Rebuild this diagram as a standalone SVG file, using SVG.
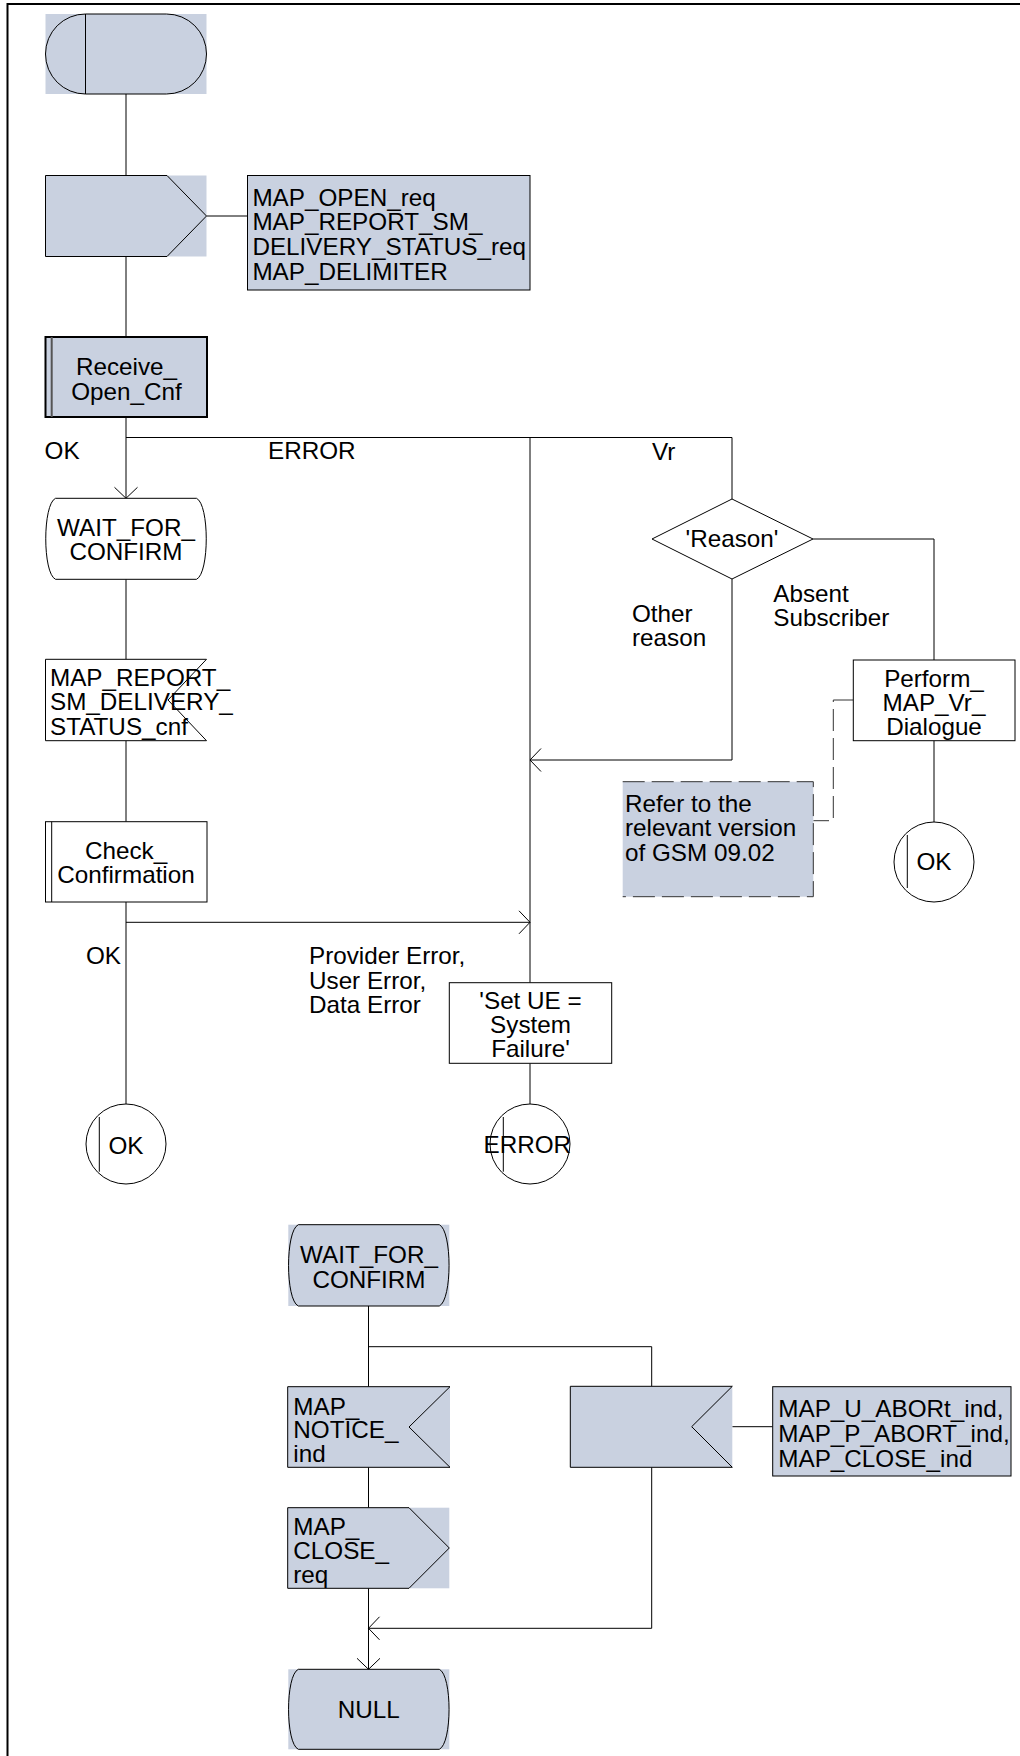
<svg xmlns="http://www.w3.org/2000/svg" width="1020" height="1756" viewBox="0 0 1020 1756">
<style>
.t{font-family:"Liberation Sans",Arial,Helvetica,sans-serif;font-size:23px;fill:#000}
.m{text-anchor:middle}
.ln{fill:none;stroke:#000;stroke-width:1}
.bg{fill:#C9D1E0;stroke:none}
.sh{fill:none;stroke:#000;stroke-width:1}
.wf{fill:#fff;stroke:#000;stroke-width:1}
.bx{fill:#C9D1E0;stroke:#000;stroke-width:1}
.dash{fill:none;stroke:#333;stroke-width:1;stroke-dasharray:22 7}
.bar{stroke:#000;stroke-width:1}
</style>
<defs>
<marker id="arr" markerUnits="userSpaceOnUse" markerWidth="24" markerHeight="24" refX="12" refY="12" orient="auto" viewBox="0 0 24 24">
<path d="M1,0.5 L12,12 L1,23.5" fill="none" stroke="#000" stroke-width="1"/>
</marker>
</defs>
<rect x="0" y="0" width="1020" height="1756" fill="#fff"/>
<path d="M7.5,1756 V4 H1020" fill="none" stroke="#000" stroke-width="2"/>

<g id="connectors">
<path class="ln" d="M126,94 V175.5"/>
<path class="ln" d="M206.5,216 H247.5"/>
<path class="ln" d="M126,256.5 V337"/>
<path class="ln" d="M126,417 V498.3" marker-end="url(#arr)"/>
<path class="ln" d="M126,437.5 H732 V499"/>
<path class="ln" d="M530,437.5 V982.7"/>
<path class="ln" d="M126,579.3 V659.3"/>
<path class="ln" d="M126,740.7 V821.7"/>
<path class="ln" d="M126,902 V1104"/>
<path class="ln" d="M126,922.3 H530" marker-end="url(#arr)"/>
<path class="ln" d="M813,539 H934 V660"/>
<path class="ln" d="M732,579 V760 H530" marker-end="url(#arr)"/>
<path class="ln" d="M934,740.7 V822"/>
<path class="ln" d="M530,1063.3 V1104"/>
<path class="dash" d="M853.3,700 H833.3 V820.7 H813.3"/>
<path class="ln" d="M368.5,1306 V1386.7"/>
<path class="ln" d="M368.5,1346.7 H651.7 V1386.3"/>
<path class="ln" d="M368.5,1467.3 V1507.7"/>
<path class="ln" d="M368.5,1588.3 V1669.3" marker-end="url(#arr)"/>
<path class="ln" d="M651.7,1467.3 V1628.3 H368.5" marker-end="url(#arr)"/>
<path class="ln" d="M732.3,1426.7 H772.7"/>
</g>

<g id="labels">
<text class="t" transform="translate(44.6,459.3) scale(1.055,1)">OK</text>
<text class="t" transform="translate(268,459.3) scale(1.055,1)">ERROR</text>
<text class="t" transform="translate(652,460) scale(1.055,1)">Vr</text>
<text class="t" transform="translate(632,621.7) scale(1.055,1)"><tspan x="0">Other</tspan><tspan x="0" dy="24.3">reason</tspan></text>
<text class="t" transform="translate(773.3,601.7) scale(1.055,1)"><tspan x="0">Absent</tspan><tspan x="0" dy="24.3">Subscriber</tspan></text>
<text class="t" transform="translate(86,964.3) scale(1.055,1)">OK</text>
<text class="t" transform="translate(309,964.3) scale(1.055,1)"><tspan x="0">Provider Error,</tspan><tspan x="0" dy="24.5">User Error,</tspan><tspan x="0" dy="24.5">Data Error</tspan></text>
</g>

<g id="start">
<rect class="bg" x="45.5" y="14" width="161" height="80"/>
<path class="sh" d="M85.5,14 H166.5 A40,40 0 0 1 166.5,94 H85.5 A40,40 0 0 1 85.5,14 Z M85.5,14 V94"/>
</g>

<g id="out-open">
<rect class="bg" x="45.5" y="175.5" width="161" height="81"/>
<path class="sh" d="M45.5,175.5 H167 L206.5,216 L167,256.5 H45.5 Z"/>
</g>

<g id="sig-open">
<rect class="bx" x="247.5" y="175.5" width="282.5" height="114.5"/>
<text class="t" transform="translate(252.4,205.7) scale(1.055,1)"><tspan x="0">MAP_OPEN_req</tspan><tspan x="0" dy="24.8">MAP_REPORT_SM_</tspan><tspan x="0" dy="24.8">DELIVERY_STATUS_req</tspan><tspan x="0" dy="24.8">MAP_DELIMITER</tspan></text>
</g>

<g id="proc-receive">
<rect class="bx" x="45.5" y="337" width="161.5" height="80" style="stroke-width:2"/>
<line x1="51.7" y1="337" x2="51.7" y2="417" stroke="#555" stroke-width="2"/>
<text class="t m" transform="translate(126.5,375) scale(1.055,1)"><tspan x="0">Receive_</tspan><tspan x="0" dy="25">Open_Cnf</tspan></text>
</g>

<g id="state-wait1">
<path class="wf" d="M55.5,498.3 H196.5 C209.5,504.3 209.5,573.3 196.5,579.3 H55.5 C42.5,573.3 42.5,504.3 55.5,498.3 Z"/>
<text class="t m" transform="translate(126,536) scale(1.055,1)"><tspan x="0">WAIT_FOR_</tspan><tspan x="0" dy="24">CONFIRM</tspan></text>
</g>

<g id="in-report">
<path class="wf" d="M45.5,659.3 H206.5 L168,700 L206.5,740.7 H45.5 Z"/>
<text class="t" transform="translate(50,686) scale(1.055,1)"><tspan x="0">MAP_REPORT_</tspan><tspan x="0" dy="24.5">SM_DELIVERY_</tspan><tspan x="0" dy="24.5">STATUS_cnf</tspan></text>
</g>

<g id="proc-check">
<rect class="wf" x="45.5" y="821.7" width="161.5" height="80.3"/>
<line class="bar" x1="51.7" y1="821.7" x2="51.7" y2="902"/>
<text class="t m" transform="translate(126,859.3) scale(1.055,1)"><tspan x="0">Check_</tspan><tspan x="0" dy="24">Confirmation</tspan></text>
</g>

<g id="conn-ok1">
<circle class="wf" cx="126" cy="1144" r="40"/>
<line class="bar" x1="99.3" y1="1117" x2="99.3" y2="1171.7"/>
<text class="t m" transform="translate(126,1154) scale(1.055,1)">OK</text>
</g>

<g id="dec-reason">
<polygon class="wf" points="652,539 732,499 813,539 732,579"/>
<text class="t m" transform="translate(732,547) scale(1.055,1)">'Reason'</text>
</g>

<g id="proc-perform">
<rect class="wf" x="853.3" y="660" width="161.7" height="80.7"/>
<text class="t m" transform="translate(934,686.7) scale(1.055,1)"><tspan x="0">Perform_</tspan><tspan x="0" dy="24.3">MAP_Vr_</tspan><tspan x="0" dy="24.3">Dialogue</tspan></text>
</g>

<g id="conn-ok2">
<circle class="wf" cx="934" cy="862" r="40"/>
<line class="bar" x1="907.3" y1="835" x2="907.3" y2="888"/>
<text class="t m" transform="translate(934,870) scale(1.055,1)">OK</text>
</g>

<g id="comment">
<rect class="bg" x="622.7" y="781.7" width="190.6" height="115"/>
<path class="dash" d="M622.7,781.7 H813.3 V896.7 H622.7"/>
<text class="t" transform="translate(625,811.7) scale(1.055,1)"><tspan x="0">Refer to the</tspan><tspan x="0" dy="24.7">relevant version</tspan><tspan x="0" dy="24.7">of GSM 09.02</tspan></text>
</g>

<g id="task-setue">
<rect class="wf" x="449.3" y="982.7" width="162.4" height="80.6"/>
<text class="t m" transform="translate(530.5,1009.3) scale(1.055,1)"><tspan x="0">'Set UE =</tspan><tspan x="0" dy="24">System</tspan><tspan x="0" dy="24">Failure'</tspan></text>
</g>

<g id="conn-error">
<circle class="wf" cx="530" cy="1144" r="40"/>
<line class="bar" x1="503.3" y1="1117" x2="503.3" y2="1171.7"/>
<text class="t m" transform="translate(527.3,1153.3) scale(1.055,1)">ERROR</text>
</g>

<g id="state-wait2">
<rect class="bg" x="288.3" y="1224.7" width="161" height="81.3"/>
<path class="sh" d="M298.3,1224.7 H439.3 C452.3,1230.7 452.3,1300 439.3,1306 H298.3 C285.3,1300 285.3,1230.7 298.3,1224.7 Z"/>
<text class="t m" transform="translate(369,1263.3) scale(1.055,1)"><tspan x="0">WAIT_FOR_</tspan><tspan x="0" dy="24.4">CONFIRM</tspan></text>
</g>

<g id="in-notice">
<rect class="bg" x="287.7" y="1386.7" width="162.3" height="80.6"/>
<path class="sh" d="M287.7,1386.7 H450 L409,1427 L450,1467.3 H287.7 Z"/>
<text class="t" transform="translate(293.3,1415) scale(1.055,1)"><tspan x="0">MAP_</tspan><tspan x="0" dy="23.3">NOTICE_</tspan><tspan x="0" dy="23.3">ind</tspan></text>
</g>

<g id="in-abort">
<rect class="bg" x="570.3" y="1386.3" width="162" height="81"/>
<path class="sh" d="M570.3,1386.3 H732.3 L691.7,1426.7 L732.3,1467.3 H570.3 Z"/>
</g>

<g id="sig-abort">
<rect class="bx" x="772.7" y="1386.7" width="238.3" height="89.3"/>
<text class="t" transform="translate(778.3,1416.7) scale(1.055,1)"><tspan x="0">MAP_U_ABORt_ind,</tspan><tspan x="0" dy="25">MAP_P_ABORT_ind,</tspan><tspan x="0" dy="25">MAP_CLOSE_ind</tspan></text>
</g>

<g id="out-close">
<rect class="bg" x="287.7" y="1507.7" width="161.6" height="80.6"/>
<path class="sh" d="M287.7,1507.7 H409 L449.3,1548 L409,1588.3 H287.7 Z"/>
<text class="t" transform="translate(293.3,1535) scale(1.055,1)"><tspan x="0">MAP_</tspan><tspan x="0" dy="24.2">CLOSE_</tspan><tspan x="0" dy="24.2">req</tspan></text>
</g>

<g id="state-null">
<rect class="bg" x="288.3" y="1669.3" width="161" height="80"/>
<path class="sh" d="M298.3,1669.3 H439.3 C452.3,1675.3 452.3,1743.3 439.3,1749.3 H298.3 C285.3,1743.3 285.3,1675.3 298.3,1669.3 Z"/>
<text class="t m" transform="translate(368.8,1718.3) scale(1.055,1)">NULL</text>
</g>
</svg>
